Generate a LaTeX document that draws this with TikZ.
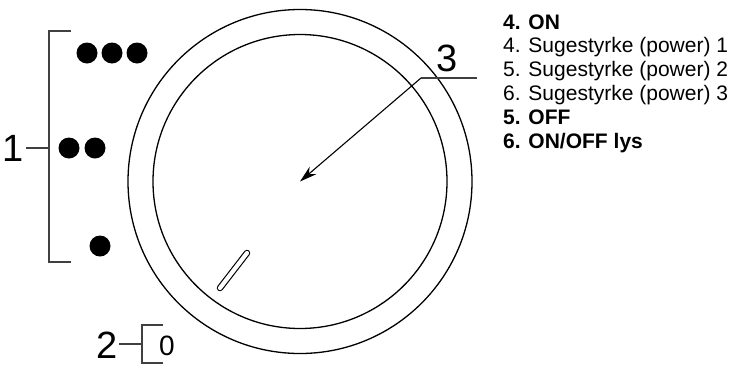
\documentclass[tikz,border=0pt]{standalone}
\usepackage{fontspec}
\setmainfont{Liberation Sans}
\usetikzlibrary{arrows.meta}
\begin{document}
\begin{tikzpicture}[x=1pt,y=-1pt,
  ring/.style={line width=1.3pt},
  lead/.style={line width=1.1pt, draw=black!75},
  dot/.style={circle, fill=black, minimum size=21pt, inner sep=0pt},
  big/.style={font=\fontsize{38}{40}\selectfont, inner sep=0pt, anchor=base},
  small/.style={font=\fontsize{28}{30}\selectfont, inner sep=0pt, anchor=base},
  item/.style={font=\fontsize{21}{24}\selectfont, inner sep=0pt, anchor=base west},
]
\useasboundingbox (0,0) rectangle (733,365);
% dial
\coordinate (c) at (300,181.5);
\draw[ring] (c) circle[radius=172];
\draw[ring] (c) circle[radius=147];
% slot
\coordinate (s1) at (220,288);
\coordinate (s2) at (247,253);
\draw[line width=6.5pt, line cap=round] (s1) -- (s2);
\draw[white, line width=4.2pt, line cap=round] (s1) -- (s2);
% dots
\node[dot] (d1) at (87,53) {};
\node[dot] (d2) at (112,53) {};
\node[dot] (d3) at (137,53) {};
\node[dot] (d4) at (69,148) {};
\node[dot] (d5) at (95,148) {};
\node[dot] (d6) at (100,246) {};
% bracket 1
\coordinate (b1a) at (71,31);
\coordinate (b1b) at (49,31);
\coordinate (b1c) at (49,262);
\coordinate (b1d) at (71,262);
\coordinate (b1m) at (49,148);
\coordinate (l1) at (26,148);
\draw[lead] (b1a) -- (b1b) -- (b1c) -- (b1d);
\draw[lead] (l1) -- (b1m);
\node[big] (n1) at (13.5,161) {1};
% bracket 2
\coordinate (b2a) at (163,325);
\coordinate (b2b) at (142,325);
\coordinate (b2c) at (142,363);
\coordinate (b2d) at (163,363);
\coordinate (b2m) at (142,344);
\coordinate (l2) at (119,344);
\draw[lead] (b2a) -- (b2b) -- (b2c) -- (b2d);
\draw[lead] (l2) -- (b2m);
\node[big] (n2) at (107.5,358) {2};
\node[small] (n0) at (167,355) {0};
% leader 3
\coordinate (a3) at (421,78);
\coordinate (e3) at (477,78);
\node[big] (n3) at (447,71) {3};
\draw[lead] (a3) -- (e3);
\draw[line width=1.1pt, -{Stealth[length=17pt,width=10pt]}] (a3) -- (c);
% legend
\node[item, font=\fontsize{21}{24}\selectfont\bfseries] (t1) at (503,29) {4. ON};
\node[item] (t2) at (503,52.8) {4. Sugestyrke (power) 1};
\node[item] (t3) at (503,76.6) {5. Sugestyrke (power) 2};
\node[item] (t4) at (503,100.4) {6. Sugestyrke (power) 3};
\node[item, font=\fontsize{21}{24}\selectfont\bfseries] (t5) at (503,124.2) {5. OFF};
\node[item, font=\fontsize{21}{24}\selectfont\bfseries] (t6) at (503,148) {6. ON/OFF lys};
\end{tikzpicture}
\end{document}
